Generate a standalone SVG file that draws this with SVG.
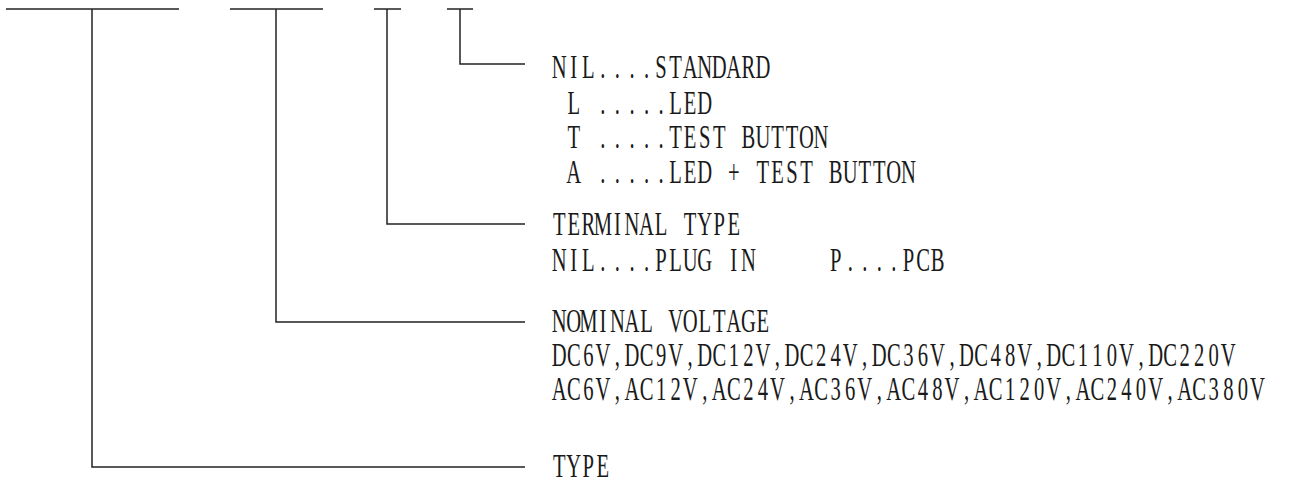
<svg xmlns="http://www.w3.org/2000/svg" width="1295" height="483" viewBox="0 0 1295 483">
<style>
.t{font-family:"Liberation Serif","Times New Roman",serif;font-size:34px;text-anchor:middle;fill:#1a1a1a}
.ln{fill:none;stroke:#222;stroke-width:1.5}
</style>
<rect width="1295" height="483" fill="#fff"/>
<g id="fields">
<line class="ln" x1="6" y1="9" x2="179" y2="9"/>
<line class="ln" x1="230" y1="9" x2="323" y2="9"/>
<line class="ln" x1="374" y1="9" x2="401" y2="9"/>
<line class="ln" x1="447" y1="9" x2="473" y2="9"/>
</g>
<g id="connectors">
<path class="ln" d="M92 9V467H525"/>
<path class="ln" d="M276 9V322H525"/>
<path class="ln" d="M387 9V224H525"/>
<path class="ln" d="M460 9V64H525"/>
</g>
<g id="option">
<text class="t" transform="translate(552,78) scale(0.606,1)" x="12 36 60 84 108 132 156 180 204 228 252 276 300 324 348 372 396 420 444 468 492 516 540 564 588 612 636 660 684 708 732 756 780 804 828 852 876 900 924 948 972 996 1020 1044 1068 1092 1116 1140 1164 1188" y="0">NIL....STANDARD</text>
<text class="t" transform="translate(552,114) scale(0.606,1)" x="36 60 84 108 132 156 180 204 228 252 276 300 324 348 372 396 420 444 468 492 516 540 564 588 612 636 660 684 708 732 756 780 804 828 852 876 900 924 948 972 996 1020 1044 1068 1092 1116 1140 1164 1188" y="0">L .....LED</text>
<text class="t" transform="translate(552,148) scale(0.606,1)" x="36 60 84 108 132 156 180 204 228 252 276 300 324 348 372 396 420 444 468 492 516 540 564 588 612 636 660 684 708 732 756 780 804 828 852 876 900 924 948 972 996 1020 1044 1068 1092 1116 1140 1164 1188" y="0">T .....TEST BUTTON</text>
<text class="t" transform="translate(552,183) scale(0.606,1)" x="36 60 84 108 132 156 180 204 228 252 276 300 324 348 372 396 420 444 468 492 516 540 564 588 612 636 660 684 708 732 756 780 804 828 852 876 900 924 948 972 996 1020 1044 1068 1092 1116 1140 1164 1188" y="0">A .....LED + TEST BUTTON</text>
</g>
<g id="terminal">
<text class="t" transform="translate(552,235) scale(0.606,1)" x="12 36 60 84 108 132 156 180 204 228 252 276 300 324 348 372 396 420 444 468 492 516 540 564 588 612 636 660 684 708" y="0">TERMINAL TYPE</text>
<text class="t" transform="translate(552,271) scale(0.606,1)" x="12 36 60 84 108 132 156 180 204 228 252 276 300 324 348 372 396 420 444 468 492 516 540 564 588 612 636 660 684 708" y="0">NIL....PLUG IN</text>
<text class="t" transform="translate(828.5,271) scale(0.606,1)" x="12 36 60 84 108 132 156 180 204 228 252 276 300 324" y="0">P....PCB</text>
</g>
<g id="voltage">
<text class="t" transform="translate(552,332) scale(0.606,1)" x="12 36 60 84 108 132 156 180 204 228 252 276 300 324 348 372 396 420 444 468 492 516 540 564 588 612 636 660 684 708 732 756 780 804 828 852 876 900 924 948 972 996 1020 1044 1068 1092 1116 1140 1164 1188" y="0">NOMINAL VOLTAGE</text>
<text class="t" transform="translate(552,366) scale(0.606,1)" x="12 36 60 84 108 132 156 180 204 228 252 276 300 324 348 372 396 420 444 468 492 516 540 564 588 612 636 660 684 708 732 756 780 804 828 852 876 900 924 948 972 996 1020 1044 1068 1092 1116 1140 1164 1188" y="0">DC6V,DC9V,DC12V,DC24V,DC36V,DC48V,DC110V,DC220V</text>
<text class="t" transform="translate(552,400) scale(0.606,1)" x="12 36 60 84 108 132 156 180 204 228 252 276 300 324 348 372 396 420 444 468 492 516 540 564 588 612 636 660 684 708 732 756 780 804 828 852 876 900 924 948 972 996 1020 1044 1068 1092 1116 1140 1164 1188" y="0">AC6V,AC12V,AC24V,AC36V,AC48V,AC120V,AC240V,AC380V</text>
</g>
<g id="type">
<text class="t" transform="translate(552,477) scale(0.606,1)" x="12 36 60 84 108 132" y="0">TYPE</text>
</g>
</svg>
